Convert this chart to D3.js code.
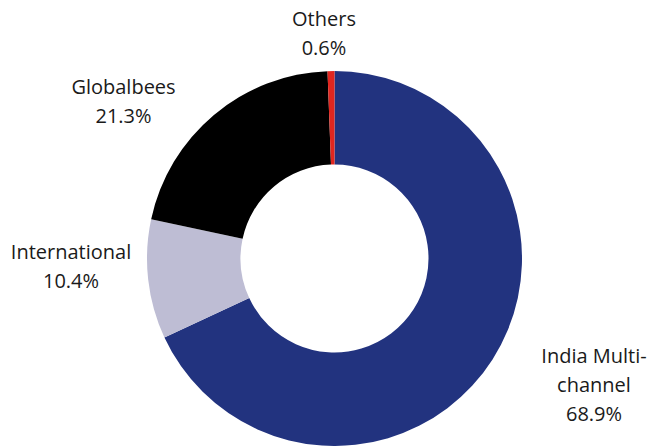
<!DOCTYPE html>
<html>
<head>
<meta charset="utf-8">
<script src="https://cdn.jsdelivr.net/npm/d3@7"></script>
<style>
  html, body { margin: 0; padding: 0; background: #fff; }
  svg text { font-family: "Open Sans", Lato, sans-serif; font-size: 20px; fill: #1a1a1a; }
</style>
</head>
<body>
<div id="chart"></div>
<script>
// segment names (label lines) and shares in %
var segments = ["India Multi-channel", "International", "Globalbees", "Others"];
var labelLines = [["India Multi-", "channel"], ["International"], ["Globalbees"], ["Others"]];
var shares = [68.9, 10.4, 21.3, 0.6];
var colors = ["#22337f", "#bebdd4", "#000000", "#e0261f"];

var width = 648, height = 446;
var cx = 334.5, cy = 258.5;
var outerR = 187.5, innerR = 94;

// where each label block is centred (first baseline)
var labelPos = {
    "India Multi-channel": [594, 363],
    "International": [71, 259],
    "Globalbees": [123.5, 94],
    "Others": [324, 26]
};
var lineH = 29;

var svg = d3.select("#chart").append("svg")
    .attr("width", width)
    .attr("height", height);

var data = segments.map(function (name, i) {
    return { name: name, lines: labelLines[i], value: shares[i], color: colors[i] };
});

var pie = d3.pie()
    .sort(null)
    .value(function (d) { return d.value; });

var arc = d3.arc()
    .innerRadius(innerR)
    .outerRadius(outerR);

var g = svg.append("g")
    .attr("transform", "translate(" + cx + "," + cy + ")");

g.selectAll("path.slice")
    .data(pie(data))
    .enter().append("path")
    .attr("class", "slice")
    .attr("d", arc)
    .attr("fill", function (d) { return d.data.color; });

// labels: name lines then percent
var labels = svg.selectAll("text.label")
    .data(data)
    .enter().append("text")
    .attr("class", "label")
    .attr("text-anchor", "middle")
    .attr("x", function (d) { return labelPos[d.name][0]; })
    .attr("y", function (d) { return labelPos[d.name][1]; });

labels.each(function (d) {
    var t = d3.select(this);
    var x = labelPos[d.name][0];
    d.lines.concat([d3.format(".1f")(d.value) + "%"]).forEach(function (line, i) {
        t.append("tspan")
            .attr("x", x)
            .attr("dy", i === 0 ? 0 : lineH)
            .text(line);
    });
});
</script>
</body>
</html>
